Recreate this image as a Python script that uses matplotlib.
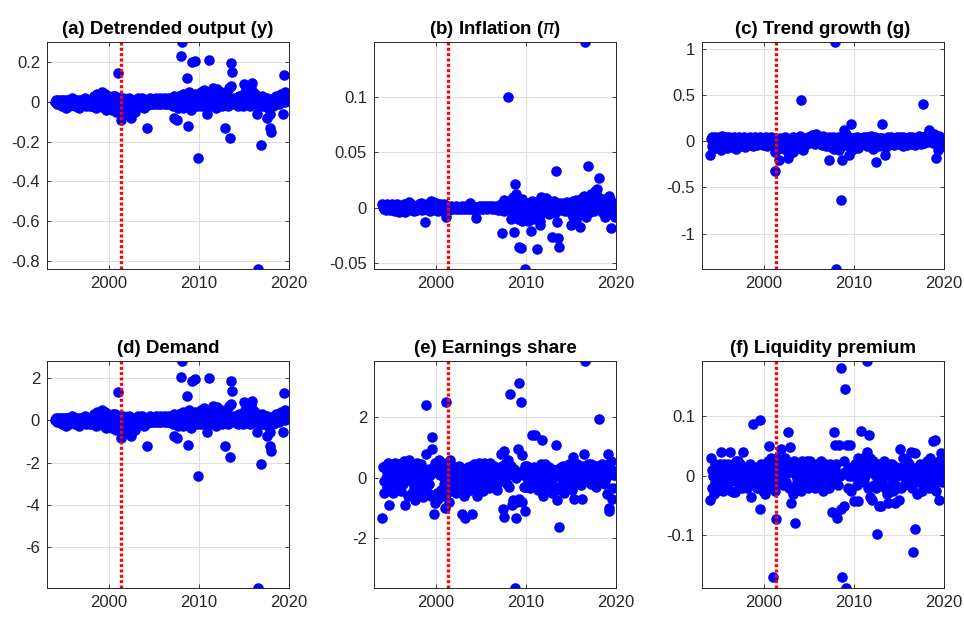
import numpy as np
import matplotlib
matplotlib.use("Agg")
import matplotlib.pyplot as plt

plt.rcParams['font.family'] = ['Liberation Sans', 'DejaVu Sans']
plt.rcParams['axes.unicode_minus'] = False

# monthly observations 1994:01 - 2019:12
years = np.arange(1994, 2020)
months = np.arange(12)
dates = (years[:, None] + months[None, :] / 12.0).ravel()
break_date = 2001.3

titles = ["(a) Detrended output (y)", "(b) Inflation ($\\pi$)", "(c) Trend growth (g)",
          "(d) Demand", "(e) Earnings share", "(f) Liquidity premium"]

output_y = [
    0.00, 0.01, 0.00, -0.01, 0.01, 0.00, -0.01, 0.00, 0.01, -0.02, 0.00, 0.01,
    0.00, -0.01, 0.01, -0.03, 0.00, 0.01, -0.02, 0.00, 0.01, -0.01, 0.00, 0.02,
    -0.01, 0.00, 0.01, -0.02, 0.00, 0.01, -0.01, 0.00, -0.03, 0.01, 0.00, -0.01,
    0.01, 0.00, -0.01, 0.00, 0.02, -0.02, 0.00, 0.01, -0.01, 0.00, -0.02, 0.01,
    0.00, -0.02, 0.02, -0.01, 0.03, 0.00, -0.03, 0.02, 0.04, -0.01, 0.03, -0.02,
    0.03, 0.01, -0.02, 0.05, 0.02, -0.03, 0.04, 0.00, -0.04, 0.02, 0.03, -0.01,
    0.01, -0.03, 0.02, 0.00, -0.04, 0.03, -0.02, 0.01, 0.03, -0.05, 0.00, 0.02,
    0.145, -0.04, 0.02, -0.05, -0.09, 0.01, -0.03, 0.02, -0.06, 0.00, 0.01, -0.02,
    0.01, -0.03, 0.02, 0.00, -0.07, -0.08, 0.01, -0.02, 0.00, 0.01, -0.05, 0.00,
    0.01, -0.01, 0.00, 0.02, -0.02, 0.00, 0.01, -0.01, 0.02, 0.00, -0.03, 0.01,
    0.00, -0.02, -0.13, 0.01, 0.00, -0.01, 0.02, 0.00, -0.01, 0.01, 0.00, -0.01,
    0.01, 0.00, -0.01, 0.02, 0.00, 0.01, -0.01, 0.00, 0.02, -0.01, 0.00, 0.01,
    0.00, 0.02, -0.01, 0.00, 0.01, -0.01, 0.02, 0.00, -0.01, 0.01, 0.00, 0.02,
    0.01, -0.02, 0.03, -0.08, 0.02, 0.00, -0.01, -0.09, -0.03, 0.03, -0.01, 0.02,
    0.23, 0.30, -0.03, 0.04, 0.01, -0.02, 0.03, 0.00, 0.12, -0.12, 0.05, -0.01,
    0.02, -0.04, 0.20, 0.01, 0.00, 0.03, 0.205, 0.04, 0.01, -0.02, 0.03, -0.28,
    0.03, 0.00, 0.05, -0.02, 0.04, 0.01, 0.06, -0.01, 0.02, 0.05, -0.06, 0.00,
    0.01, 0.21, -0.02, 0.01, 0.03, 0.02, 0.07, 0.02, 0.00, 0.04, -0.03, 0.01,
    0.065, 0.02, -0.01, 0.03, 0.00, 0.05, -0.02, 0.01, 0.02, 0.00, -0.13, 0.03,
    0.01, 0.04, -0.02, 0.02, 0.07, -0.18, 0.08, 0.195, 0.15, 0.00, -0.01, 0.02,
    0.00, -0.01, 0.02, 0.01, -0.02, 0.03, 0.00, -0.01, 0.02, 0.01, -0.02, 0.00,
    0.09, 0.05, 0.02, -0.01, 0.06, 0.03, 0.00, 0.04, -0.02, 0.08, 0.02, 0.095,
    0.05, 0.02, 0.04, -0.01, 0.03, -0.06, 0.00, -0.84, 0.02, 0.01, -0.215, -0.02,
    0.03, 0.00, 0.02, -0.02, 0.01, 0.00, -0.08, 0.02, -0.03, 0.01, -0.06, -0.13,
    -0.15, 0.01, -0.02, 0.00, 0.02, 0.01, -0.01, 0.03, 0.00, 0.01, 0.02, -0.01,
    0.03, 0.04, 0.01, 0.02, -0.06, 0.135, 0.05, 0.00, 0.03, 0.01, 0.02, 0.04,
]

inflation = [
    0.003, 0.001, -0.001, 0.002, 0.000, -0.002, 0.003, 0.001, -0.001, 0.002, 0.000, -0.002,
    0.001, 0.003, -0.002, 0.000, 0.002, -0.003, 0.001, 0.000, 0.003, -0.001, -0.004, 0.002,
    0.000, -0.003, 0.002, 0.001, -0.002, 0.003, 0.000, -0.004, 0.001, 0.002, -0.001, 0.000,
    0.005, 0.001, -0.002, 0.003, 0.000, -0.001, 0.002, -0.003, 0.001, 0.000, 0.002, -0.002,
    0.001, 0.003, -0.001, 0.000, 0.004, -0.002, 0.001, 0.003, -0.001, -0.013, 0.002, 0.000,
    0.002, -0.002, 0.004, 0.001, -0.003, 0.006, 0.002, -0.001, 0.005, 0.000, 0.003, -0.002,
    0.004, 0.001, -0.003, 0.002, 0.000, 0.003, -0.001, 0.002, 0.000, -0.002, 0.001, 0.003,
    0.000, -0.008, 0.002, 0.001, 0.000, -0.002, 0.001, 0.000, 0.002, -0.001, 0.000, 0.001,
    0.001, 0.000, -0.001, 0.002, 0.000, 0.001, -0.001, 0.000, 0.001, 0.000, -0.001, 0.002,
    0.000, 0.001, -0.001, 0.000, 0.002, 0.000, -0.001, 0.001, 0.000, 0.004, 0.001, -0.001,
    0.000, 0.001, -0.002, 0.000, 0.001, -0.009, 0.000, -0.001, 0.001, 0.000, 0.002, -0.001,
    0.001, 0.000, 0.002, -0.001, 0.000, 0.001, 0.002, 0.000, -0.001, 0.001, 0.000, 0.002,
    0.000, 0.001, -0.001, 0.002, 0.000, 0.001, 0.000, -0.001, 0.002, 0.000, 0.001, -0.002,
    0.001, 0.000, -0.002, 0.003, -0.023, 0.001, 0.007, -0.003, 0.002, 0.005, -0.001, 0.003,
    0.100, 0.004, -0.002, 0.006, -0.010, 0.003, 0.010, -0.005, -0.022, 0.021, 0.012, 0.004,
    0.002, -0.010, -0.035, 0.005, -0.004, -0.036, 0.008, -0.012, 0.003, -0.007, 0.001, -0.055,
    -0.006, 0.004, -0.012, 0.002, -0.008, 0.003, -0.021, -0.005, 0.006, -0.010, 0.000, 0.004,
    -0.004, 0.002, -0.037, 0.005, -0.003, 0.001, -0.012, -0.015, 0.010, 0.003, -0.005, 0.008,
    0.006, -0.002, 0.009, 0.000, -0.004, 0.007, 0.002, -0.006, 0.004, 0.001, -0.026, 0.003,
    -0.003, 0.006, 0.000, -0.005, 0.033, -0.013, 0.002, -0.027, -0.035, 0.004, -0.002, 0.001,
    0.003, -0.001, 0.004, 0.000, -0.003, 0.002, 0.005, -0.002, 0.001, 0.004, 0.000, -0.004,
    -0.015, 0.003, -0.008, 0.006, -0.004, 0.001, -0.011, 0.007, -0.002, 0.004, -0.006, 0.002,
    -0.017, 0.005, -0.003, 0.009, -0.006, 0.011, 0.002, 0.149, -0.008, 0.004, 0.038, 0.001,
    0.003, -0.004, 0.007, 0.012, -0.002, 0.005, 0.009, -0.003, 0.015, 0.006, 0.017, -0.001,
    0.010, 0.027, 0.004, -0.002, 0.006, 0.001, -0.005, 0.008, 0.003, -0.008, 0.005, 0.002,
    0.006, -0.003, 0.004, 0.011, 0.008, -0.018, -0.006, 0.004, 0.001, -0.002, 0.003, -0.008,
]

trend_growth = [
    -0.15, 0.02, -0.05, 0.04, -0.08, 0.00, 0.05, -0.03, 0.02, -0.06, 0.03, -0.01,
    0.05, -0.04, 0.01, -0.09, 0.06, 0.00, -0.05, 0.03, -0.02, 0.04, -0.07, 0.01,
    -0.03, 0.05, -0.01, 0.02, -0.06, 0.03, 0.00, -0.04, 0.05, -0.02, 0.01, -0.08,
    0.02, -0.03, 0.04, -0.01, 0.01, -0.05, 0.03, 0.00, -0.02, 0.04, -0.06, 0.02,
    -0.01, 0.03, -0.04, 0.01, -0.03, 0.05, 0.00, -0.02, 0.03, -0.05, 0.02, 0.01,
    0.04, -0.02, 0.01, -0.04, 0.03, 0.00, -0.03, 0.05, -0.01, 0.02, -0.04, 0.03,
    0.00, 0.03, -0.02, 0.04, -0.05, 0.01, 0.02, -0.03, 0.00, 0.04, -0.02, 0.01,
    -0.02, 0.03, -0.32, -0.12, 0.02, -0.05, -0.08, 0.01, -0.20, 0.03, -0.04, 0.00,
    0.02, -0.06, 0.01, -0.03, 0.05, -0.10, 0.00, -0.04, -0.18, 0.02, -0.07, 0.01,
    -0.03, 0.01, -0.12, 0.04, -0.02, 0.00, -0.08, 0.03, -0.05, 0.01, 0.02, -0.03,
    0.06, 0.44, -0.02, 0.03, -0.10, 0.01, -0.04, 0.02, 0.00, -0.03, 0.05, -0.01,
    0.02, -0.01, 0.04, 0.00, 0.07, -0.02, 0.03, 0.01, -0.03, 0.08, 0.02, -0.01,
    0.03, 0.00, -0.02, 0.05, 0.01, -0.04, 0.02, 0.06, -0.01, 0.00, 0.03, -0.05,
    0.01, -0.03, -0.20, 0.04, 0.00, -0.06, 0.03, -0.02, 0.05, -0.08, 0.01, 1.07,
    -1.38, 0.02, -0.05, 0.04, -0.10, 0.01, 0.03, -0.64, -0.20, 0.03, 0.12, 0.06,
    -0.04, 0.08, -0.02, 0.02, 0.05, -0.15, -0.06, 0.01, 0.19, -0.09, 0.03, 0.00,
    0.03, -0.05, 0.01, -0.02, 0.04, 0.00, -0.07, 0.02, -0.01, 0.03, -0.04, 0.01,
    0.00, 0.04, -0.03, 0.02, -0.01, 0.05, -0.05, 0.01, 0.03, -0.02, 0.00, 0.06,
    -0.02, 0.02, -0.08, 0.01, 0.04, -0.03, -0.23, 0.00, 0.02, -0.05, 0.01, 0.03,
    -0.01, 0.03, 0.19, -0.04, 0.00, -0.15, 0.02, -0.06, 0.01, 0.04, -0.02, 0.00,
    0.02, -0.03, 0.05, 0.00, -0.01, 0.03, -0.04, 0.01, 0.02, -0.02, 0.04, 0.00,
    -0.03, 0.01, 0.04, -0.02, 0.00, 0.05, -0.05, 0.02, -0.01, 0.03, 0.00, -0.04,
    0.02, -0.01, 0.05, 0.00, -0.03, 0.02, 0.04, -0.02, 0.01, -0.04, 0.03, 0.00,
    0.01, 0.03, -0.02, 0.06, 0.00, -0.03, 0.02, 0.04, 0.40, 0.01, -0.02, 0.05,
    0.03, 0.07, -0.01, 0.04, 0.12, 0.02, 0.09, 0.00, 0.06, 0.03, -0.02, 0.08,
    0.05, 0.02, -0.18, 0.04, -0.10, 0.01, 0.06, -0.03, 0.03, 0.00, -0.05, -0.02,
]

demand = [
    0.0, 0.09, 0.0, -0.09, 0.09, 0.0, -0.09, 0.0, 0.09, -0.19, 0.0, 0.09,
    0.0, -0.09, 0.09, -0.28, 0.0, 0.09, -0.19, 0.0, 0.09, -0.09, 0.0, 0.19,
    -0.09, 0.0, 0.09, -0.19, 0.0, 0.09, -0.09, 0.0, -0.28, 0.09, 0.0, -0.09,
    0.09, 0.0, -0.09, 0.0, 0.19, -0.19, 0.0, 0.09, -0.09, 0.0, -0.19, 0.09,
    0.0, -0.19, 0.19, -0.09, 0.28, 0.0, -0.28, 0.19, 0.38, -0.09, 0.28, -0.19,
    0.28, 0.09, -0.19, 0.47, 0.19, -0.28, 0.38, 0.0, -0.38, 0.19, 0.28, -0.09,
    0.09, -0.28, 0.19, 0.0, -0.38, 0.28, -0.19, 0.09, 0.28, -0.47, 0.0, 0.19,
    1.36, -0.38, 0.19, -0.47, -0.85, 0.09, -0.28, 0.19, -0.56, 0.0, 0.09, -0.19,
    0.09, -0.28, 0.19, 0.0, -0.66, -0.75, 0.09, -0.19, 0.0, 0.09, -0.47, 0.0,
    0.09, -0.09, 0.0, 0.19, -0.19, 0.0, 0.09, -0.09, 0.19, 0.0, -0.28, 0.09,
    0.0, -0.19, -1.22, 0.09, 0.0, -0.09, 0.19, 0.0, -0.09, 0.09, 0.0, -0.09,
    0.09, 0.0, -0.09, 0.19, 0.0, 0.09, -0.09, 0.0, 0.19, -0.09, 0.0, 0.09,
    0.0, 0.19, -0.09, 0.0, 0.09, -0.09, 0.19, 0.0, -0.09, 0.09, 0.0, 0.19,
    0.09, -0.19, 0.28, -0.75, 0.19, 0.0, -0.09, -0.85, -0.28, 0.28, -0.09, 0.19,
    2.05, 2.8, -0.28, 0.38, 0.09, -0.19, 0.28, 0.0, 1.13, -1.15, 0.47, -0.09,
    0.19, -0.38, 1.88, 0.09, 0.0, 0.28, 1.93, 0.38, 0.09, -0.19, 0.28, -2.65,
    0.28, 0.0, 0.47, -0.19, 0.38, 0.09, 0.56, -0.09, 0.19, 0.47, -0.56, 0.0,
    0.09, 2.0, -0.19, 0.09, 0.28, 0.19, 0.66, 0.19, 0.0, 0.38, -0.28, 0.09,
    0.61, 0.19, -0.09, 0.28, 0.0, 0.47, -0.19, 0.09, 0.19, 0.0, -1.2, 0.28,
    0.09, 0.38, -0.19, 0.19, 0.66, -1.73, 0.75, 1.85, 1.4, 0.0, -0.09, 0.19,
    0.0, -0.09, 0.19, 0.09, -0.19, 0.28, 0.0, -0.09, 0.19, 0.09, -0.19, 0.0,
    0.85, 0.47, 0.19, -0.09, 0.56, 0.28, 0.0, 0.38, -0.19, 0.75, 0.19, 0.89,
    0.47, 0.19, 0.38, -0.09, 0.28, -0.56, 0.0, -7.92, 0.19, 0.09, -2.05, -0.19,
    0.28, 0.0, 0.19, -0.19, 0.09, 0.0, -0.75, 0.19, -0.28, 0.09, -0.56, -1.22,
    -1.45, 0.09, -0.19, 0.0, 0.19, 0.09, -0.09, 0.28, 0.0, 0.09, 0.19, -0.09,
    0.28, 0.38, 0.09, 0.19, -0.56, 1.3, 0.47, 0.0, 0.28, 0.09, 0.19, 0.38,
]

earnings = [
    -1.35, 0.35, -0.1, -0.5, 0.4, 0.0, -0.3, 0.2, 0.5, -0.9, -0.2, 0.1,
    0.45, -0.25, 0.3, -0.5, 0.1, 0.5, -0.1, 0.35, 0.2, -0.35, 0.45, 0.0,
    0.3, -0.45, 0.5, 0.1, -0.2, 0.55, 0.2, -0.9, 0.4, 0.0, -0.6, 0.3,
    0.6, 0.1, -0.1, 0.45, -0.5, 0.2, -0.3, 0.35, -0.75, 0.0, 0.5, -0.2,
    0.3, -0.6, 0.1, -0.4, 0.45, 0.2, -0.1, -0.65, 0.15, -0.3, 2.4, 0.8,
    0.0, -0.5, 0.3, -0.2, 0.1, -0.6, 1.35, 0.95, 0.2, -1.2, 0.5, -0.85,
    0.2, -0.5, 0.45, -0.7, 0.6, 0.1, -0.4, 0.3, -0.6, 0.5, -0.2, 0.0,
    -1.0, 2.5, 0.0, -0.5, 0.3, -0.8, 0.6, 0.1, -0.3, 0.4, -0.1, 0.2,
    -0.2, 0.3, -0.5, 0.1, -0.3, 0.25, -0.1, 0.4, -0.4, 0.0, -1.2, 0.2,
    0.1, -0.6, -1.35, 0.3, -0.2, 0.0, 0.35, -0.45, 0.2, -0.1, 0.4, -0.3,
    -1.2, 0.2, -0.4, 0.45, 0.0, -0.25, 0.3, -0.6, 0.1, 0.5, -0.15, 0.25,
    -0.3, 0.4, 0.1, -0.45, 0.5, 0.0, -0.2, 0.35, -0.1, 0.45, -0.35, 0.2,
    0.5, -0.1, 0.3, -0.3, 0.15, 0.4, -0.2, 0.0, 0.3, -0.4, 0.2, 0.1,
    -0.15, 0.3, 0.1, 0.8, 0.4, -1.05, 0.9, -1.3, 0.0, 0.5, -0.2, 0.3,
    0.6, -0.3, 2.77, 0.2, 0.4, -0.9, 0.1, -0.75, 0.3, -3.66, -1.35, 0.0,
    -0.8, 0.95, 3.15, -0.7, 0.2, 2.5, -0.8, 0.75, 0.1, -0.3, 0.4, -1.1,
    -0.3, 0.4, -0.1, 0.2, 0.0, -0.35, 0.3, 0.1, 1.4, -0.2, 0.35, 0.05,
    1.4, -0.1, 0.3, 0.0, -0.4, 0.25, 0.1, -0.2, 0.45, 1.25, -0.6, 0.2,
    0.1, 0.45, -0.3, 0.2, 0.0, -0.2, 0.35, 0.15, -0.1, 0.3, -0.5, 0.1,
    0.0, 0.25, -0.3, 0.2, 1.1, -0.75, 0.1, 0.3, -1.65, -0.4, 0.05, 0.35,
    -0.2, 0.4, 0.1, -0.5, 0.3, 0.0, 0.35, -0.15, 0.2, 0.45, -0.3, 0.1,
    0.2, -0.4, 0.7, 0.0, -0.7, 0.3, 0.1, -0.2, 0.45, 0.2, -0.1, 0.35,
    0.3, -0.25, 0.1, -0.7, 0.4, 0.8, -0.1, 3.87, 0.2, 0.0, 0.45, 0.1,
    0.0, 0.35, -0.2, 0.45, 0.1, 0.3, -0.1, 0.4, 0.2, -0.3, 0.1, 0.4,
    0.3, 1.95, 0.0, 0.4, -0.1, 0.45, 0.2, 0.1, 0.4, -0.2, 0.3, 0.0,
    -0.55, 0.8, -1.0, -1.1, 0.5, 0.3, 0.55, -0.7, -0.35, 0.1, 0.2, 0.1,
]

liquidity = [
    -0.04, 0.03, -0.02, 0.01, 0.00, -0.03, 0.02, -0.01, 0.015, -0.025, 0.005, 0.01,
    -0.01, 0.02, 0.04, -0.015, 0.005, -0.025, 0.02, 0.01, -0.005, 0.015, 0.0, -0.02,
    0.02, -0.01, 0.005, 0.04, -0.025, 0.01, -0.028, 0.015, 0.0, -0.027, 0.025, 0.005,
    -0.01, 0.025, 0.0, -0.015, 0.02, 0.005, -0.02, 0.01, 0.04, -0.005, 0.015, -0.01,
    0.005, -0.02, 0.015, 0.0, -0.01, 0.02, -0.035, 0.01, 0.0, 0.087, -0.015, 0.015,
    -0.005, 0.01, 0.005, -0.02, 0.015, 0.0, 0.094, -0.055, 0.02, -0.01, 0.01, -0.025,
    0.015, -0.03, 0.0, 0.02, -0.015, 0.025, 0.05, -0.01, 0.01, 0.03, -0.02, 0.005,
    -0.17, 0.02, -0.025, 0.0, -0.073, 0.03, -0.01, 0.025, 0.015, -0.005, 0.045, 0.02,
    0.01, -0.015, 0.025, 0.0, 0.03, -0.01, 0.02, 0.005, 0.073, -0.02, 0.048, 0.015,
    -0.045, 0.01, -0.02, -0.03, 0.025, -0.08, 0.0, 0.015, -0.01, 0.02, 0.005, -0.015,
    0.02, -0.025, 0.01, 0.025, -0.005, 0.015, 0.0, 0.02, -0.01, 0.025, 0.005, -0.02,
    0.01, 0.025, -0.01, 0.0, 0.02, -0.015, 0.015, 0.005, -0.02, 0.01, 0.02, 0.0,
    -0.01, 0.02, 0.005, -0.015, 0.025, 0.0, 0.01, -0.025, 0.015, 0.02, -0.005, 0.01,
    0.0, 0.015, -0.02, 0.01, 0.02, -0.005, -0.06, 0.005, 0.015, 0.074, -0.01, 0.052,
    0.02, -0.07, 0.005, -0.015, 0.052, 0.0, 0.18, -0.055, -0.17, 0.005, -0.05, 0.025,
    0.145, -0.188, 0.052, 0.01, -0.02, 0.0, 0.005, 0.052, -0.025, 0.015, 0.0, 0.01,
    -0.042, 0.02, 0.005, 0.01, -0.015, 0.03, -0.042, 0.0, 0.02, 0.01, 0.075, -0.005,
    0.03, -0.01, 0.015, 0.0, 0.01, 0.192, 0.04, -0.02, 0.068, 0.03, -0.035, 0.02,
    -0.04, 0.005, 0.025, -0.015, 0.01, 0.0, -0.02, -0.098, 0.015, -0.05, 0.02, 0.005,
    -0.05, 0.02, -0.01, 0.01, 0.025, -0.02, 0.0, 0.015, -0.03, 0.005, -0.045, 0.02,
    0.0, -0.015, 0.01, 0.02, -0.025, 0.005, -0.01, -0.045, 0.015, 0.0, -0.02, 0.01,
    -0.04, 0.045, 0.005, -0.02, 0.015, 0.03, 0.0, -0.015, 0.02, 0.01, -0.005, 0.025,
    0.0, 0.02, -0.01, 0.015, 0.04, 0.005, -0.02, -0.127, 0.01, 0.038, -0.09, 0.0,
    -0.03, 0.015, 0.005, -0.01, 0.02, 0.0, 0.01, -0.025, 0.015, 0.005, -0.015, 0.02,
    0.01, -0.005, 0.025, 0.0, -0.02, 0.015, 0.03, -0.01, 0.005, 0.02, 0.058, -0.015,
    0.06, 0.01, -0.025, 0.02, 0.0, -0.04, 0.025, -0.005, 0.038, 0.01, -0.01, 0.02,
]

series = [output_y, inflation, trend_growth, demand, earnings, liquidity]
yticks = [[-0.8, -0.6, -0.4, -0.2, 0, 0.2], [-0.05, 0, 0.05, 0.1], [-1, -0.5, 0, 0.5, 1],
          [-6, -4, -2, 0, 2], [-2, 0, 2], [-0.1, 0, 0.1]]

fig = plt.figure(figsize=(9.64, 6.2), dpi=100)
lefts = [0.0488, 0.388, 0.7282]
bottoms = [0.5661, 0.0516]

for i in range(6):
    ax = fig.add_axes([lefts[i % 3], bottoms[i // 3], 0.251, 0.3661])
    vals = np.array(series[i])
    ax.plot(dates, vals, 'o', color=(0, 0, 1), markersize=7.6, markeredgewidth=0)
    ax.axvline(break_date, color='red', linestyle=(0, (0.9, 0.7)), linewidth=2.4)
    ax.set_xlim(1993.1, 2020)
    ax.set_ylim(vals.min(), vals.max())
    ax.set_xticks([2000, 2010, 2020])
    ax.set_yticks(yticks[i])
    ax.set_yticklabels([('%g' % t) for t in yticks[i]])
    ax.grid(True, color='#e0e0e0', linewidth=0.8)
    ax.set_axisbelow(True)
    ax.tick_params(direction='in', length=3, width=0.6, colors='#262626',
                   labelsize=12, top=True, right=True, pad=5)
    for sp in ax.spines.values():
        sp.set_color('#262626')
        sp.set_linewidth(0.7)
    ax.set_title(titles[i], fontsize=13.5, fontweight='bold', pad=6)

plt.savefig("out.png", dpi=100)
